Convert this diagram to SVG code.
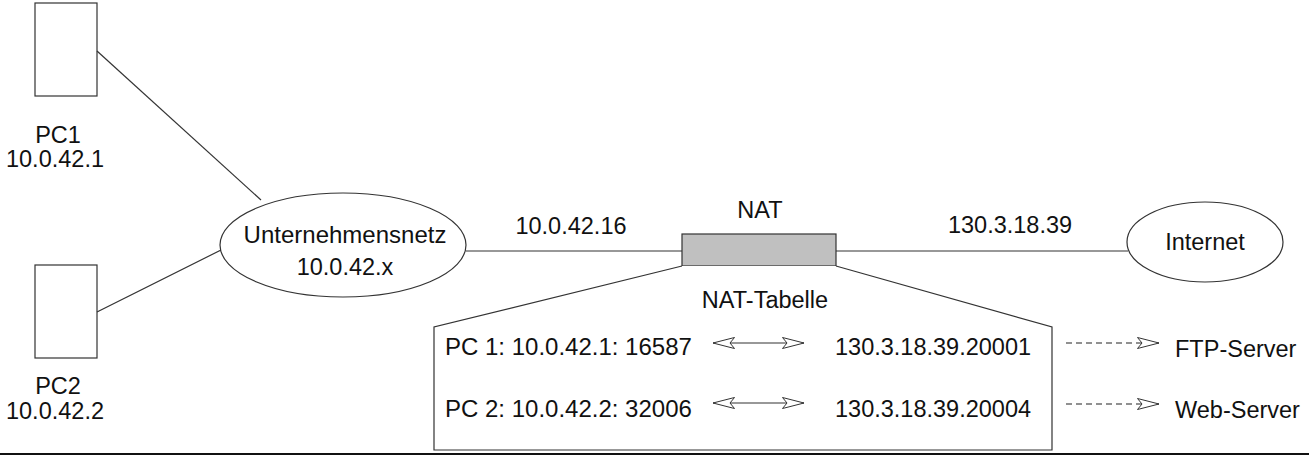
<svg xmlns="http://www.w3.org/2000/svg" width="1309" height="455" viewBox="0 0 1309 455">
<style>
.s{fill:none;stroke:#333;stroke-width:1.2}
.n{fill:#fff;stroke:#333;stroke-width:1.2}
.t{font-family:"Liberation Sans",Arial,sans-serif;font-size:23.5px;fill:#111}
.c{text-anchor:middle}
.d{stroke:#222;stroke-dasharray:6 4}
</style>
<defs>
<marker id="oa" viewBox="0 0 22 12" refX="22" refY="6" markerWidth="22" markerHeight="12" markerUnits="userSpaceOnUse" orient="auto-start-reverse">
<path d="M0.5,0.5 L22,6 L0.5,11.5 L5,6 Z" fill="#fff" stroke="#333" stroke-width="1"/>
</marker>
</defs>
<rect width="1309" height="455" fill="#fff"/>
<g id="pc1">
<rect class="n" x="35" y="3" width="62" height="93"/>
<text class="t c" x="58" y="143">PC1</text>
<text class="t c" x="55" y="167">10.0.42.1</text>
</g>
<g id="pc2">
<rect class="n" x="35" y="265" width="62" height="93"/>
<text class="t c" x="58" y="394">PC2</text>
<text class="t c" x="55" y="419">10.0.42.2</text>
</g>
<g id="unternehmensnetz">
<ellipse class="n" cx="343" cy="245" rx="123" ry="52"/>
<text class="t c" x="345" y="243" style="font-size:24px">Unternehmensnetz</text>
<text class="t c" x="345" y="275">10.0.42.x</text>
</g>
<g id="nat">
<rect x="682" y="234" width="154" height="32" fill="#c0c0c0" stroke="#333" stroke-width="1.2"/>
<text class="t c" x="760" y="218">NAT</text>
<text class="t c" x="571" y="234">10.0.42.16</text>
<text class="t c" x="1010" y="233">130.3.18.39</text>
</g>
<g id="internet">
<ellipse class="n" cx="1205" cy="242" rx="78" ry="40"/>
<text class="t c" x="1205" y="250">Internet</text>
</g>
<g id="nat-tabelle">
<path class="n" d="M682,266 L434,327 L434,450 L1052,450 L1052,327 L836,266"/>
<text class="t c" x="765" y="308">NAT-Tabelle</text>
<text class="t" x="445" y="355" style="font-size:24px">PC 1: 10.0.42.1: 16587</text>
<text class="t" x="445" y="417" style="font-size:24px">PC 2: 10.0.42.2: 32006</text>
<text class="t" x="835" y="355">130.3.18.39.20001</text>
<text class="t" x="835" y="417">130.3.18.39.20004</text>
</g>
<g id="ftp-server">
<text class="t" x="1175" y="357">FTP-Server</text>
</g>
<g id="web-server">
<text class="t" x="1175" y="418">Web-Server</text>
</g>
<g id="connectors">
<line class="s" x1="97" y1="51" x2="261" y2="200"/>
<line class="s" x1="97" y1="312" x2="221" y2="250"/>
<line class="s" x1="466" y1="251" x2="682" y2="251"/>
<line class="s" x1="836" y1="251" x2="1128" y2="251"/>
<line class="s" x1="713" y1="343" x2="804" y2="343" marker-start="url(#oa)" marker-end="url(#oa)"/>
<line class="s" x1="713" y1="403" x2="804" y2="403" marker-start="url(#oa)" marker-end="url(#oa)"/>
<line class="s d" x1="1066" y1="343" x2="1159" y2="343" marker-end="url(#oa)"/>
<line class="s d" x1="1066" y1="404" x2="1159" y2="404" marker-end="url(#oa)"/>
</g>
<rect x="0" y="453" width="1309" height="2" fill="#111"/>
</svg>
